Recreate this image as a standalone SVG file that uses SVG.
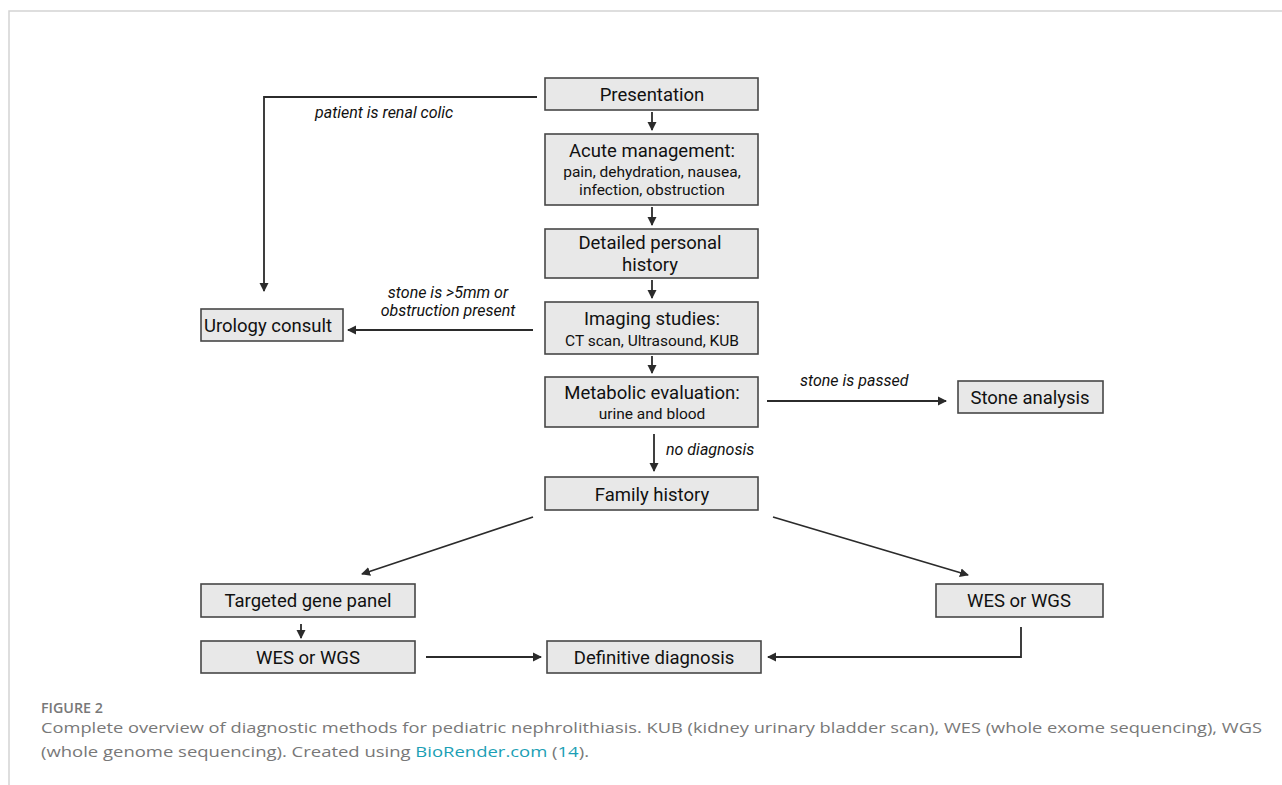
<svg xmlns="http://www.w3.org/2000/svg" width="1282" height="785" viewBox="0 0 1282 785">
<style>
.box{fill:#e8e8e8;stroke:#474747;stroke-width:1.6}
.t{font-family:Roboto,"Liberation Sans",sans-serif;fill:#111;text-anchor:middle}
.big{font-size:18.5px}
.sm{font-size:15.5px}
.lab{font-family:Roboto,"Liberation Sans",sans-serif;font-style:italic;font-size:16px;fill:#111}
.c{fill:none;stroke:#2b2b2b;stroke-width:1.8}
.cap{font-family:"Open Sans","Liberation Sans",sans-serif;fill:#787878}
</style>
<defs>
<marker id="ah" markerWidth="10" markerHeight="10" refX="8" refY="5" orient="auto" markerUnits="userSpaceOnUse">
<path d="M0,0.5 L9,5 L0,9.5 Z" fill="#2b2b2b"/>
</marker>
</defs>
<rect width="1282" height="785" fill="#fff"/>
<path d="M9,785 V11 H1282" fill="none" stroke="#d3d3d3" stroke-width="1.5"/>
<g id="connectors">
<path class="c" d="M652,112 V130" marker-end="url(#ah)"/>
<path class="c" d="M652,207 V225" marker-end="url(#ah)"/>
<path class="c" d="M652,280 V298" marker-end="url(#ah)"/>
<path class="c" d="M652,356 V373" marker-end="url(#ah)"/>
<path class="c" d="M537,97 H264 V291" marker-end="url(#ah)"/>
<text class="lab" x="315" y="118">patient is renal colic</text>
<path class="c" d="M533,330 H348" marker-end="url(#ah)"/>
<text class="lab" x="448" y="298" text-anchor="middle">stone is &gt;5mm or</text>
<text class="lab" x="448" y="316" text-anchor="middle">obstruction present</text>
<path class="c" d="M767,401 H946" marker-end="url(#ah)"/>
<text class="lab" x="800" y="386">stone is passed</text>
<path class="c" d="M654,434 V471" marker-end="url(#ah)"/>
<text class="lab" x="666" y="455">no diagnosis</text>
<path class="c" d="M533,517 L362,574" marker-end="url(#ah)"/>
<path class="c" d="M773,517 L968,575" marker-end="url(#ah)"/>
<path class="c" d="M301,624 V638" marker-end="url(#ah)"/>
<path class="c" d="M426,657 H541" marker-end="url(#ah)"/>
<path class="c" d="M1021,627 V657 H768" marker-end="url(#ah)"/>
</g>
<g id="presentation"><rect class="box" x="545" y="78" width="213" height="32"/><text class="t big" x="652" y="101">Presentation</text></g>
<g id="acute"><rect class="box" x="545" y="134" width="213" height="71"/><text class="t big" x="652" y="157">Acute management:</text><text class="t sm" x="652" y="177">pain, dehydration, nausea,</text><text class="t sm" x="652" y="195">infection, obstruction</text></g>
<g id="personal"><rect class="box" x="545" y="229" width="213" height="49"/><text class="t big" x="650" y="249">Detailed personal</text><text class="t big" x="650" y="271">history</text></g>
<g id="imaging"><rect class="box" x="545" y="302" width="213" height="52"/><text class="t big" x="652" y="325">Imaging studies:</text><text class="t sm" x="652" y="346">CT scan, Ultrasound, KUB</text></g>
<g id="metabolic"><rect class="box" x="545" y="377" width="213" height="50"/><text class="t big" x="652" y="399">Metabolic evaluation:</text><text class="t sm" x="652" y="419">urine and blood</text></g>
<g id="family"><rect class="box" x="545" y="477" width="213" height="33"/><text class="t big" x="652" y="501">Family history</text></g>
<g id="urology"><rect class="box" x="201" y="309" width="142" height="32"/><text class="t big" x="268" y="332">Urology consult</text></g>
<g id="stone"><rect class="box" x="958" y="381" width="145" height="32"/><text class="t big" x="1030" y="404">Stone analysis</text></g>
<g id="targeted"><rect class="box" x="201" y="584" width="214" height="33"/><text class="t big" x="308" y="607">Targeted gene panel</text></g>
<g id="wes-left"><rect class="box" x="201" y="641" width="214" height="32"/><text class="t big" x="308" y="664">WES or WGS</text></g>
<g id="definitive"><rect class="box" x="547" y="641" width="214" height="32"/><text class="t big" x="654" y="664">Definitive diagnosis</text></g>
<g id="wes-right"><rect class="box" x="936" y="584" width="167" height="33"/><text class="t big" x="1019" y="607">WES or WGS</text></g>
<text class="cap" x="41" y="713" font-size="14" font-weight="600" textLength="62" lengthAdjust="spacingAndGlyphs">FIGURE 2</text>
<text class="cap" x="41" y="733" font-size="14.5" textLength="1221" lengthAdjust="spacingAndGlyphs">Complete overview of diagnostic methods for pediatric nephrolithiasis. KUB (kidney urinary bladder scan), WES (whole exome sequencing), WGS</text>
<text class="cap" x="41" y="757" font-size="14.5" textLength="548" lengthAdjust="spacingAndGlyphs">(whole genome sequencing). Created using <tspan fill="#1c9fb5">BioRender.com</tspan> (<tspan fill="#1c9fb5">14</tspan>).</text>
</svg>
